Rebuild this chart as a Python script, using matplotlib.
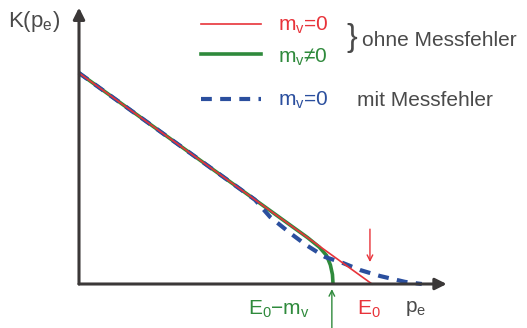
import matplotlib
matplotlib.use('Agg')
import matplotlib.pyplot as plt

plt.rcParams['font.family'] = ['Liberation Sans', 'DejaVu Sans']
plt.rcParams['mathtext.default'] = 'regular'

# Kurie-Plot Endpunkt: p_e in Einheiten von E0, K normiert auf K(0)=1
E0 = 1.0
E0_minus_m = 0.867

# m_v = 0 ohne Messfehler (Gerade)
p_red = [0.0, E0]
k_red = [1.0, 0.0]

# m_v != 0 ohne Messfehler (biegt vor E0 ab)
p_green = [0.0, 0.78, 0.82, 0.845, 0.858, 0.865, 0.867]
k_green = [1.0, 0.22, 0.175, 0.135, 0.09, 0.045, 0.0]

# m_v = 0 mit Messfehler (verschmiert ueber E0 hinaus)
p_blue = [0.0, 0.60, 0.652, 0.72, 0.775, 0.84, 0.90, 0.96, 1.027, 1.113, 1.17]
k_blue = [1.0, 0.40, 0.318, 0.242, 0.185, 0.128, 0.10, 0.066, 0.038, 0.01, 0.0]

RED = '#e8333a'
GREEN = '#2f8a3c'
BLUE = '#2b4f9e'
AXIS = '#3b3838'
TXT = '#4a4a4a'

W, H = 527, 328
fig = plt.figure(figsize=(W / 100, H / 100), dpi=100)
ax = fig.add_axes([0, 0, 1, 1])
ax.set_xlim(-79 / 293, (W - 79) / 293)
ax.set_ylim(-(H - 284) / 211, 284 / 211)
ax.axis('off')

# Achsen mit Pfeilen
ax.annotate('', xy=(0, 1.31), xytext=(0, 0),
            arrowprops=dict(arrowstyle='-|>', lw=2.2, color=AXIS, mutation_scale=17,
                            shrinkA=0, shrinkB=0))
ax.annotate('', xy=(1.255, 0), xytext=(0, 0),
            arrowprops=dict(arrowstyle='-|>', lw=2.2, color=AXIS, mutation_scale=17,
                            shrinkA=0, shrinkB=0))

# Kurven
ax.plot(p_green, k_green, color=GREEN, lw=2.6, solid_capstyle='butt')
ax.plot(p_blue, k_blue, color=BLUE, lw=3.0, dashes=(2.6, 2.0))
ax.plot(p_red, k_red, color=RED, lw=1.2)

# kleine Pfeile
ax.annotate('', xy=(0.993, 0.104), xytext=(0.993, 0.26),
            arrowprops=dict(arrowstyle='->', lw=1.0, color=RED, mutation_scale=10,
                            shrinkA=0, shrinkB=0))
ax.annotate('', xy=(E0_minus_m - 0.004, -0.024), xytext=(E0_minus_m - 0.004, -0.21),
            arrowprops=dict(arrowstyle='->', lw=1.0, color=GREEN, mutation_scale=10,
                            shrinkA=0, shrinkB=0))

def px(x, y):
    return x / W, 1 - y / H

fs = 15
fig.text(*px(34, 21), 'K(p$_{e}$)', fontsize=fs + 1, color=TXT, ha='center', va='center')

# Legende
for y, c, ls in [(24, RED, '-'), (54, GREEN, '-'), (99, BLUE, '--')]:
    xa, _ = px(201, y)
    xb, yy = px(261, y)
    if ls == '--':
        fig.add_artist(plt.Line2D([xa, xb], [yy, yy], color=c, lw=3.0, dashes=(2.6, 2.0)))
    else:
        fig.add_artist(plt.Line2D([xa, xb], [yy, yy], color=c,
                                  lw=1.2 if c == RED else 2.6))

fig.text(*px(278, 25), 'm$_{v}$=0', fontsize=fs, color=RED, va='center')
fig.text(*px(278, 57), 'm$_{v}$≠0', fontsize=fs, color=GREEN, va='center')
fig.text(*px(346, 38), '}', fontsize=23, color=TXT, va='center')
fig.text(*px(362, 41), 'ohne Messfehler', fontsize=fs, color=TXT, va='center')
fig.text(*px(278, 100), 'm$_{v}$=0', fontsize=fs, color=BLUE, va='center')
fig.text(*px(357, 100), 'mit Messfehler', fontsize=fs, color=TXT, va='center')

# Achsenbeschriftungen unten
fig.text(*px(248, 309), 'E$_{0}$−m$_{v}$', fontsize=fs, color=GREEN, va='center')
fig.text(*px(357, 309), 'E$_{0}$', fontsize=fs, color=RED, va='center')
fig.text(*px(405, 309), 'p$_{e}$', fontsize=fs, color=TXT, va='center')

fig.savefig('out.png', dpi=100)
